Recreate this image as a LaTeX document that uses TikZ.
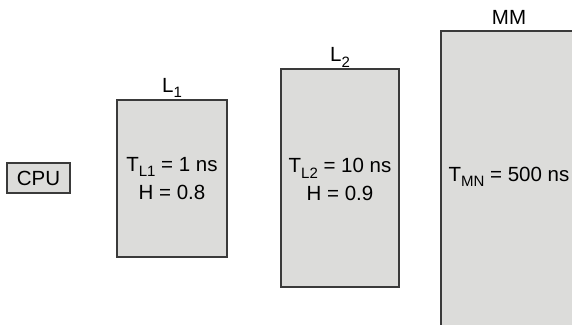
\documentclass[tikz,border=0pt]{standalone}
\usepackage{fontspec}
\setmainfont{Liberation Sans}
\newcommand{\mysub}[1]{\raisebox{-5.5pt}{\fontsize{15}{15}\selectfont #1}}
\definecolor{boxfill}{HTML}{DCDCDA}
\definecolor{boxline}{HTML}{3A3A3A}
\tikzset{
  membox/.style={draw=boxline, fill=boxfill, line width=1.3pt, inner sep=0pt},
  txt/.style={font=\fontsize{20.5}{28}\selectfont, inner sep=0pt, align=center},
  lbl/.style={font=\fontsize{20.5}{24}\selectfont, inner sep=0pt, anchor=base}
}
\begin{document}
\begin{tikzpicture}[x=1pt,y=-1pt]
\useasboundingbox (0,0) rectangle (572,324);
\clip (0,0) rectangle (572,324);
% CPU
\node[membox, minimum width=63pt, minimum height=30pt, txt] (cpu) at (38.5,178) {CPU};
% L1
\node[membox, minimum width=110pt, minimum height=157pt] (l1) at (172,178.5) {};
\node[txt] (l1t) at (172,178.5) {T\mysub{L1} = 1 ns\\H = 0.8};
\node[lbl] (l1l) at (172,92) {L\mysub{1}};
% L2
\node[membox, minimum width=118pt, minimum height=218pt] (l2) at (340,178) {};
\node[txt] (l2t) at (340,179.5) {T\mysub{L2} = 10 ns\\H = 0.9};
\node[lbl] (l2l) at (340,61.5) {L\mysub{2}};
% MM
\node[membox, minimum width=136pt, minimum height=310pt] (mm) at (509,186) {};
\node[txt] (mmt) at (509,177) {T\mysub{MN} = 500 ns};
\node[lbl] (mml) at (509,24) {MM};
\end{tikzpicture}
\end{document}
